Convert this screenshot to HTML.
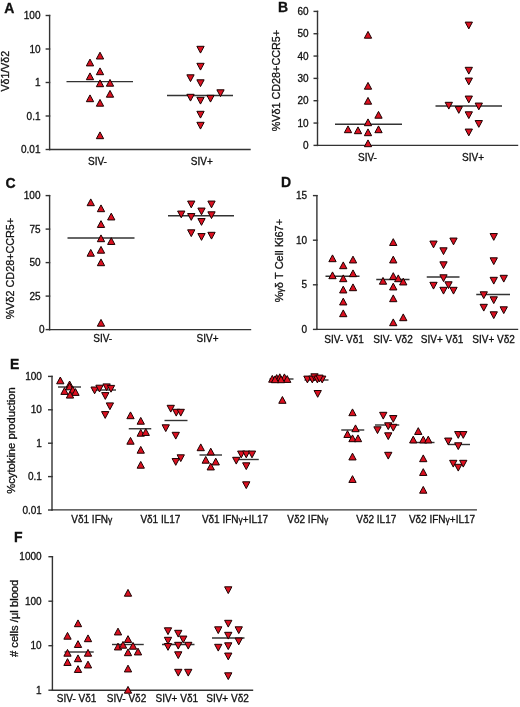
<!DOCTYPE html>
<html><head><meta charset="utf-8"><style>
html,body{margin:0;padding:0;background:#fff;width:520px;height:707px;overflow:hidden}
svg{display:block}
text{font-family:"Liberation Sans",sans-serif;fill:#111;stroke:#111;stroke-width:0.3}
svg{will-change:transform}
.a{stroke:#333;stroke-width:1.4;stroke-linecap:square}
.m{stroke:#333;stroke-width:1.4}
.t{fill:#dc1020;stroke:#1a0000;stroke-width:1.0;stroke-linejoin:miter}
</style></head><body>
<svg width="520" height="707" viewBox="0 0 520 707">

<text x="4.2" y="12.8" font-size="14" text-anchor="start" font-weight="bold" >A</text>
<line class="a" x1="49.6" y1="15.5" x2="49.6" y2="149.5"/>
<line class="a" x1="46.300000000000004" y1="15.5" x2="49.6" y2="15.5"/>
<text x="40.5" y="19.1" font-size="10" text-anchor="end" font-weight="normal" >100</text>
<line class="a" x1="46.300000000000004" y1="49.0" x2="49.6" y2="49.0"/>
<text x="40.5" y="52.6" font-size="10" text-anchor="end" font-weight="normal" >10</text>
<line class="a" x1="46.300000000000004" y1="82.5" x2="49.6" y2="82.5"/>
<text x="40.5" y="86.1" font-size="10" text-anchor="end" font-weight="normal" >1</text>
<line class="a" x1="46.300000000000004" y1="116.0" x2="49.6" y2="116.0"/>
<text x="40.5" y="119.6" font-size="10" text-anchor="end" font-weight="normal" >0.1</text>
<line class="a" x1="46.300000000000004" y1="149.5" x2="49.6" y2="149.5"/>
<text x="40.5" y="153.1" font-size="10" text-anchor="end" font-weight="normal" >0.01</text>
<line class="a" x1="49.6" y1="149.5" x2="250" y2="149.5"/>
<text transform="translate(9.2,71.25) rotate(-90)" font-size="10.6" text-anchor="middle">V&#948;1/V&#948;2</text>
<text x="97.5" y="165" font-size="10" text-anchor="middle" font-weight="normal" >SIV-</text>
<text x="201.75" y="165" font-size="10" text-anchor="middle" font-weight="normal" >SIV+</text>
<line class="m" x1="66.5" y1="81.6" x2="133" y2="81.6"/>
<polygon class="t" points="96.35,59.00 103.65,59.00 100.00,52.20"/>
<polygon class="t" points="86.35,65.90 93.65,65.90 90.00,59.10"/>
<polygon class="t" points="96.35,74.70 103.65,74.70 100.00,67.90"/>
<polygon class="t" points="86.35,79.70 93.65,79.70 90.00,72.90"/>
<polygon class="t" points="96.35,86.70 103.65,86.70 100.00,79.90"/>
<polygon class="t" points="106.35,86.20 113.65,86.20 110.00,79.40"/>
<polygon class="t" points="106.35,97.20 113.65,97.20 110.00,90.40"/>
<polygon class="t" points="86.35,101.70 93.65,101.70 90.00,94.90"/>
<polygon class="t" points="96.35,106.20 103.65,106.20 100.00,99.40"/>
<polygon class="t" points="96.35,138.70 103.65,138.70 100.00,131.90"/>
<line class="m" x1="167" y1="95.5" x2="233" y2="95.5"/>
<polygon class="t" points="196.85,46.30 204.15,46.30 200.50,53.10"/>
<polygon class="t" points="196.85,63.30 204.15,63.30 200.50,70.10"/>
<polygon class="t" points="186.85,74.80 194.15,74.80 190.50,81.60"/>
<polygon class="t" points="196.85,79.80 204.15,79.80 200.50,86.60"/>
<polygon class="t" points="216.85,89.80 224.15,89.80 220.50,96.60"/>
<polygon class="t" points="186.85,94.30 194.15,94.30 190.50,101.10"/>
<polygon class="t" points="196.85,97.30 204.15,97.30 200.50,104.10"/>
<polygon class="t" points="206.85,95.30 214.15,95.30 210.50,102.10"/>
<polygon class="t" points="196.85,111.30 204.15,111.30 200.50,118.10"/>
<polygon class="t" points="196.85,122.30 204.15,122.30 200.50,129.10"/>
<text x="277.9" y="12.1" font-size="14" text-anchor="start" font-weight="bold" >B</text>
<line class="a" x1="317.5" y1="11.4" x2="317.5" y2="145.4"/>
<line class="a" x1="314.2" y1="11.4" x2="317.5" y2="11.4"/>
<text x="308.5" y="15.0" font-size="10" text-anchor="end" font-weight="normal" >60</text>
<line class="a" x1="314.2" y1="33.73" x2="317.5" y2="33.73"/>
<text x="308.5" y="37.33" font-size="10" text-anchor="end" font-weight="normal" >50</text>
<line class="a" x1="314.2" y1="56.059999999999995" x2="317.5" y2="56.059999999999995"/>
<text x="308.5" y="59.66" font-size="10" text-anchor="end" font-weight="normal" >40</text>
<line class="a" x1="314.2" y1="78.39" x2="317.5" y2="78.39"/>
<text x="308.5" y="81.99" font-size="10" text-anchor="end" font-weight="normal" >30</text>
<line class="a" x1="314.2" y1="100.72" x2="317.5" y2="100.72"/>
<text x="308.5" y="104.32" font-size="10" text-anchor="end" font-weight="normal" >20</text>
<line class="a" x1="314.2" y1="123.05" x2="317.5" y2="123.05"/>
<text x="308.5" y="126.64999999999999" font-size="10" text-anchor="end" font-weight="normal" >10</text>
<line class="a" x1="314.2" y1="145.38" x2="317.5" y2="145.38"/>
<text x="308.5" y="148.98" font-size="10" text-anchor="end" font-weight="normal" >0</text>
<line class="a" x1="317.5" y1="145.4" x2="517.5" y2="145.4"/>
<text transform="translate(280,80.6) rotate(-90)" font-size="10.8" text-anchor="middle">%V&#948;1 CD28+CCR5+</text>
<text x="367.5" y="161" font-size="10" text-anchor="middle" font-weight="normal" >SIV-</text>
<text x="473" y="161" font-size="10" text-anchor="middle" font-weight="normal" >SIV+</text>
<line class="m" x1="335" y1="124.3" x2="402" y2="124.3"/>
<polygon class="t" points="364.35,38.20 371.65,38.20 368.00,31.40"/>
<polygon class="t" points="364.35,89.20 371.65,89.20 368.00,82.40"/>
<polygon class="t" points="364.35,104.20 371.65,104.20 368.00,97.40"/>
<polygon class="t" points="374.85,118.20 382.15,118.20 378.50,111.40"/>
<polygon class="t" points="364.35,125.70 371.65,125.70 368.00,118.90"/>
<polygon class="t" points="344.35,132.70 351.65,132.70 348.00,125.90"/>
<polygon class="t" points="354.35,133.70 361.65,133.70 358.00,126.90"/>
<polygon class="t" points="364.35,135.70 371.65,135.70 368.00,128.90"/>
<polygon class="t" points="374.85,132.70 382.15,132.70 378.50,125.90"/>
<polygon class="t" points="364.35,146.70 371.65,146.70 368.00,139.90"/>
<line class="m" x1="435.5" y1="106" x2="502" y2="106"/>
<polygon class="t" points="465.15,22.10 472.45,22.10 468.80,28.90"/>
<polygon class="t" points="465.15,67.30 472.45,67.30 468.80,74.10"/>
<polygon class="t" points="465.15,78.05 472.45,78.05 468.80,84.85"/>
<polygon class="t" points="465.15,96.05 472.45,96.05 468.80,102.85"/>
<polygon class="t" points="445.15,102.30 452.45,102.30 448.80,109.10"/>
<polygon class="t" points="455.15,106.55 462.45,106.55 458.80,113.35"/>
<polygon class="t" points="475.15,103.05 482.45,103.05 478.80,109.85"/>
<polygon class="t" points="465.15,111.80 472.45,111.80 468.80,118.60"/>
<polygon class="t" points="475.15,120.55 482.45,120.55 478.80,127.35"/>
<polygon class="t" points="465.15,129.05 472.45,129.05 468.80,135.85"/>
<text x="5.6" y="188" font-size="14" text-anchor="start" font-weight="bold" >C</text>
<line class="a" x1="49.6" y1="195.6" x2="49.6" y2="329.6"/>
<line class="a" x1="46.300000000000004" y1="195.6" x2="49.6" y2="195.6"/>
<text x="40.5" y="199.2" font-size="10" text-anchor="end" font-weight="normal" >100</text>
<line class="a" x1="46.300000000000004" y1="229.1" x2="49.6" y2="229.1"/>
<text x="40.5" y="232.7" font-size="10" text-anchor="end" font-weight="normal" >75</text>
<line class="a" x1="46.300000000000004" y1="262.6" x2="49.6" y2="262.6"/>
<text x="40.5" y="266.20000000000005" font-size="10" text-anchor="end" font-weight="normal" >50</text>
<line class="a" x1="46.300000000000004" y1="296.1" x2="49.6" y2="296.1"/>
<text x="40.5" y="299.70000000000005" font-size="10" text-anchor="end" font-weight="normal" >25</text>
<line class="a" x1="46.3" y1="329.6" x2="49.6" y2="329.6"/>
<text x="44.6" y="333.20000000000005" font-size="10" text-anchor="end" font-weight="normal" >0</text>
<line class="a" x1="49.6" y1="329.6" x2="250.5" y2="329.6"/>
<text transform="translate(14.2,268.55) rotate(-90)" font-size="10.8" text-anchor="middle">%V&#948;2 CD28+CCR5+</text>
<text x="102.75" y="342" font-size="10" text-anchor="middle" font-weight="normal" >SIV-</text>
<text x="207.5" y="342" font-size="10" text-anchor="middle" font-weight="normal" >SIV+</text>
<line class="m" x1="67.5" y1="238" x2="134.5" y2="238"/>
<polygon class="t" points="87.10,205.70 94.40,205.70 90.75,198.90"/>
<polygon class="t" points="97.35,211.70 104.65,211.70 101.00,204.90"/>
<polygon class="t" points="107.60,219.95 114.90,219.95 111.25,213.15"/>
<polygon class="t" points="97.35,227.45 104.65,227.45 101.00,220.65"/>
<polygon class="t" points="97.35,241.70 104.65,241.70 101.00,234.90"/>
<polygon class="t" points="107.60,244.45 114.90,244.45 111.25,237.65"/>
<polygon class="t" points="87.10,256.20 94.40,256.20 90.75,249.40"/>
<polygon class="t" points="97.35,253.20 104.65,253.20 101.00,246.40"/>
<polygon class="t" points="97.35,265.70 104.65,265.70 101.00,258.90"/>
<polygon class="t" points="97.35,326.20 104.65,326.20 101.00,319.40"/>
<line class="m" x1="168" y1="215.75" x2="234" y2="215.75"/>
<polygon class="t" points="187.60,201.05 194.90,201.05 191.25,207.85"/>
<polygon class="t" points="207.85,201.05 215.15,201.05 211.50,207.85"/>
<polygon class="t" points="197.85,208.05 205.15,208.05 201.50,214.85"/>
<polygon class="t" points="177.60,211.05 184.90,211.05 181.25,217.85"/>
<polygon class="t" points="187.60,213.55 194.90,213.55 191.25,220.35"/>
<polygon class="t" points="207.85,211.80 215.15,211.80 211.50,218.60"/>
<polygon class="t" points="197.85,218.55 205.15,218.55 201.50,225.35"/>
<polygon class="t" points="187.60,229.80 194.90,229.80 191.25,236.60"/>
<polygon class="t" points="197.85,233.55 205.15,233.55 201.50,240.35"/>
<polygon class="t" points="207.85,232.30 215.15,232.30 211.50,239.10"/>
<text x="280.9" y="186.7" font-size="14" text-anchor="start" font-weight="bold" >D</text>
<line class="a" x1="316.9" y1="195.6" x2="316.9" y2="329.4"/>
<line class="a" x1="313.59999999999997" y1="195.6" x2="316.9" y2="195.6"/>
<text x="307" y="199.2" font-size="10" text-anchor="end" font-weight="normal" >15</text>
<line class="a" x1="313.59999999999997" y1="240.2" x2="316.9" y2="240.2"/>
<text x="307" y="243.79999999999998" font-size="10" text-anchor="end" font-weight="normal" >10</text>
<line class="a" x1="313.59999999999997" y1="284.8" x2="316.9" y2="284.8"/>
<text x="307" y="288.40000000000003" font-size="10" text-anchor="end" font-weight="normal" >5</text>
<line class="a" x1="313.59999999999997" y1="329.4" x2="316.9" y2="329.4"/>
<text x="307" y="333.0" font-size="10" text-anchor="end" font-weight="normal" >0</text>
<line class="a" x1="316.9" y1="329.4" x2="517.5" y2="329.4"/>
<text transform="translate(283.4,260.55) rotate(-90)" font-size="11" text-anchor="middle">%<tspan font-size="8.5">&#947;</tspan>&#948; T Cell Ki67+</text>
<text x="344.1" y="342.5" font-size="10" text-anchor="middle" font-weight="normal" >SIV- V&#948;1</text>
<text x="393" y="342.5" font-size="10" text-anchor="middle" font-weight="normal" >SIV- V&#948;2</text>
<text x="442.1" y="342.5" font-size="10" text-anchor="middle" font-weight="normal" >SIV+ V&#948;1</text>
<text x="493.6" y="342.5" font-size="10" text-anchor="middle" font-weight="normal" >SIV+ V&#948;2</text>
<line class="m" x1="325.5" y1="276.25" x2="359.5" y2="276.25"/>
<polygon class="t" points="328.85,261.70 336.15,261.70 332.50,254.90"/>
<polygon class="t" points="349.35,262.95 356.65,262.95 353.00,256.15"/>
<polygon class="t" points="339.60,268.70 346.90,268.70 343.25,261.90"/>
<polygon class="t" points="349.35,276.70 356.65,276.70 353.00,269.90"/>
<polygon class="t" points="328.85,278.70 336.15,278.70 332.50,271.90"/>
<polygon class="t" points="339.60,281.70 346.90,281.70 343.25,274.90"/>
<polygon class="t" points="349.35,290.70 356.65,290.70 353.00,283.90"/>
<polygon class="t" points="339.60,292.95 346.90,292.95 343.25,286.15"/>
<polygon class="t" points="339.60,304.95 346.90,304.95 343.25,298.15"/>
<polygon class="t" points="339.60,316.70 346.90,316.70 343.25,309.90"/>
<line class="m" x1="376.25" y1="279.5" x2="409.5" y2="279.5"/>
<polygon class="t" points="389.60,245.45 396.90,245.45 393.25,238.65"/>
<polygon class="t" points="389.60,262.95 396.90,262.95 393.25,256.15"/>
<polygon class="t" points="389.60,279.45 396.90,279.45 393.25,272.65"/>
<polygon class="t" points="394.60,281.70 401.90,281.70 398.25,274.90"/>
<polygon class="t" points="379.35,284.20 386.65,284.20 383.00,277.40"/>
<polygon class="t" points="399.60,284.95 406.90,284.95 403.25,278.15"/>
<polygon class="t" points="389.60,289.95 396.90,289.95 393.25,283.15"/>
<polygon class="t" points="389.60,301.70 396.90,301.70 393.25,294.90"/>
<polygon class="t" points="399.60,320.70 406.90,320.70 403.25,313.90"/>
<polygon class="t" points="389.60,325.70 396.90,325.70 393.25,318.90"/>
<line class="m" x1="426.75" y1="277" x2="459.5" y2="277"/>
<polygon class="t" points="429.85,241.05 437.15,241.05 433.50,247.85"/>
<polygon class="t" points="449.85,238.05 457.15,238.05 453.50,244.85"/>
<polygon class="t" points="439.85,247.80 447.15,247.80 443.50,254.60"/>
<polygon class="t" points="439.85,261.80 447.15,261.80 443.50,268.60"/>
<polygon class="t" points="439.85,274.80 447.15,274.80 443.50,281.60"/>
<polygon class="t" points="429.85,282.30 437.15,282.30 433.50,289.10"/>
<polygon class="t" points="444.85,281.80 452.15,281.80 448.50,288.60"/>
<polygon class="t" points="439.85,287.30 447.15,287.30 443.50,294.10"/>
<polygon class="t" points="449.85,287.30 457.15,287.30 453.50,294.10"/>
<line class="m" x1="476.25" y1="294.5" x2="510" y2="294.5"/>
<polygon class="t" points="490.10,233.55 497.40,233.55 493.75,240.35"/>
<polygon class="t" points="490.10,257.80 497.40,257.80 493.75,264.60"/>
<polygon class="t" points="500.10,275.30 507.40,275.30 503.75,282.10"/>
<polygon class="t" points="490.10,277.30 497.40,277.30 493.75,284.10"/>
<polygon class="t" points="480.10,291.80 487.40,291.80 483.75,298.60"/>
<polygon class="t" points="490.10,296.80 497.40,296.80 493.75,303.60"/>
<polygon class="t" points="480.10,304.30 487.40,304.30 483.75,311.10"/>
<polygon class="t" points="500.10,306.80 507.40,306.80 503.75,313.60"/>
<polygon class="t" points="490.10,311.80 497.40,311.80 493.75,318.60"/>
<text x="10" y="368.7" font-size="14" text-anchor="start" font-weight="bold" >E</text>
<line class="a" x1="52.0" y1="376.4" x2="52.0" y2="509.9"/>
<line class="a" x1="48.7" y1="376.4" x2="52.0" y2="376.4"/>
<text x="41.9" y="380.0" font-size="10" text-anchor="end" font-weight="normal" >100</text>
<line class="a" x1="48.7" y1="409.79999999999995" x2="52.0" y2="409.79999999999995"/>
<text x="41.9" y="413.4" font-size="10" text-anchor="end" font-weight="normal" >10</text>
<line class="a" x1="48.7" y1="443.2" x2="52.0" y2="443.2"/>
<text x="41.9" y="446.8" font-size="10" text-anchor="end" font-weight="normal" >1</text>
<line class="a" x1="48.7" y1="476.59999999999997" x2="52.0" y2="476.59999999999997"/>
<text x="41.9" y="480.2" font-size="10" text-anchor="end" font-weight="normal" >0.1</text>
<line class="a" x1="48.7" y1="510.0" x2="52.0" y2="510.0"/>
<text x="41.9" y="513.6" font-size="10" text-anchor="end" font-weight="normal" >0.01</text>
<line class="a" x1="52.0" y1="509.9" x2="476.25" y2="509.9"/>
<text transform="translate(14.9,440.5) rotate(-90)" font-size="11.2" text-anchor="middle">%cytokine production</text>
<text x="91.75" y="522.5" font-size="10" text-anchor="middle" font-weight="normal" >V&#948;1 IFN<tspan font-size="8.5">&#947;</tspan></text>
<text x="160.4" y="522.5" font-size="10" text-anchor="middle" font-weight="normal" >V&#948;1 IL17</text>
<text x="235" y="522.5" font-size="10" text-anchor="middle" font-weight="normal" >V&#948;1 IFN<tspan font-size="8.5">&#947;</tspan>+IL17</text>
<text x="307.75" y="522.5" font-size="10" text-anchor="middle" font-weight="normal" >V&#948;2 IFN<tspan font-size="8.5">&#947;</tspan></text>
<text x="376.25" y="522.5" font-size="10" text-anchor="middle" font-weight="normal" >V&#948;2 IL17</text>
<text x="442" y="522.5" font-size="10" text-anchor="middle" font-weight="normal" >V&#948;2 IFN<tspan font-size="8.5">&#947;</tspan>+IL17</text>
<line class="m" x1="58" y1="387" x2="81" y2="387"/>
<polygon class="t" points="56.65,383.80 63.95,383.80 60.30,377.00"/>
<polygon class="t" points="65.95,387.80 73.25,387.80 69.60,381.00"/>
<polygon class="t" points="65.95,389.80 73.25,389.80 69.60,383.00"/>
<polygon class="t" points="60.85,394.40 68.15,394.40 64.50,387.60"/>
<polygon class="t" points="69.15,393.20 76.45,393.20 72.80,386.40"/>
<polygon class="t" points="71.85,395.40 79.15,395.40 75.50,388.60"/>
<polygon class="t" points="66.35,398.10 73.65,398.10 70.00,391.30"/>
<line class="m" x1="92" y1="390" x2="116" y2="390"/>
<polygon class="t" points="90.95,387.00 98.25,387.00 94.60,393.80"/>
<polygon class="t" points="95.85,385.20 103.15,385.20 99.50,392.00"/>
<polygon class="t" points="102.95,383.90 110.25,383.90 106.60,390.70"/>
<polygon class="t" points="107.35,385.40 114.65,385.40 111.00,392.20"/>
<polygon class="t" points="101.65,392.60 108.95,392.60 105.30,399.40"/>
<polygon class="t" points="106.25,402.90 113.55,402.90 109.90,409.70"/>
<polygon class="t" points="101.55,411.60 108.85,411.60 105.20,418.40"/>
<line class="m" x1="128.75" y1="428.75" x2="151.25" y2="428.75"/>
<polygon class="t" points="126.85,418.70 134.15,418.70 130.50,411.90"/>
<polygon class="t" points="137.10,424.20 144.40,424.20 140.75,417.40"/>
<polygon class="t" points="137.10,436.20 144.40,436.20 140.75,429.40"/>
<polygon class="t" points="142.10,435.45 149.40,435.45 145.75,428.65"/>
<polygon class="t" points="126.85,444.20 134.15,444.20 130.50,437.40"/>
<polygon class="t" points="137.10,453.20 144.40,453.20 140.75,446.40"/>
<polygon class="t" points="137.10,468.20 144.40,468.20 140.75,461.40"/>
<line class="m" x1="164.5" y1="420.5" x2="187.5" y2="420.5"/>
<polygon class="t" points="167.10,405.30 174.40,405.30 170.75,412.10"/>
<polygon class="t" points="172.60,409.30 179.90,409.30 176.25,416.10"/>
<polygon class="t" points="177.10,409.30 184.40,409.30 180.75,416.10"/>
<polygon class="t" points="162.10,424.80 169.40,424.80 165.75,431.60"/>
<polygon class="t" points="172.10,432.30 179.40,432.30 175.75,439.10"/>
<polygon class="t" points="177.10,454.80 184.40,454.80 180.75,461.60"/>
<polygon class="t" points="172.10,458.55 179.40,458.55 175.75,465.35"/>
<line class="m" x1="199.5" y1="455" x2="222" y2="455"/>
<polygon class="t" points="197.10,450.70 204.40,450.70 200.75,443.90"/>
<polygon class="t" points="207.10,454.95 214.40,454.95 210.75,448.15"/>
<polygon class="t" points="202.10,463.20 209.40,463.20 205.75,456.40"/>
<polygon class="t" points="212.10,464.95 219.40,464.95 215.75,458.15"/>
<polygon class="t" points="207.10,469.95 214.40,469.95 210.75,463.15"/>
<line class="m" x1="238.75" y1="459.5" x2="258.75" y2="459.5"/>
<polygon class="t" points="232.60,457.30 239.90,457.30 236.25,464.10"/>
<polygon class="t" points="237.60,451.05 244.90,451.05 241.25,457.85"/>
<polygon class="t" points="242.60,451.05 249.90,451.05 246.25,457.85"/>
<polygon class="t" points="248.35,451.05 255.65,451.05 252.00,457.85"/>
<polygon class="t" points="242.60,462.80 249.90,462.80 246.25,469.60"/>
<polygon class="t" points="242.60,481.80 249.90,481.80 246.25,488.60"/>
<line class="m" x1="269.5" y1="379" x2="293.5" y2="379"/>
<polygon class="t" points="268.65,382.20 275.95,382.20 272.30,375.40"/>
<polygon class="t" points="273.05,381.40 280.35,381.40 276.70,374.60"/>
<polygon class="t" points="276.15,380.60 283.45,380.60 279.80,373.80"/>
<polygon class="t" points="280.75,380.70 288.05,380.70 284.40,373.90"/>
<polygon class="t" points="283.55,382.40 290.85,382.40 287.20,375.60"/>
<polygon class="t" points="277.35,382.70 284.65,382.70 281.00,375.90"/>
<polygon class="t" points="271.35,382.70 278.65,382.70 275.00,375.90"/>
<polygon class="t" points="278.75,403.30 286.05,403.30 282.40,396.50"/>
<line class="m" x1="304.5" y1="380" x2="328.5" y2="380"/>
<polygon class="t" points="303.75,376.10 311.05,376.10 307.40,382.90"/>
<polygon class="t" points="308.65,376.10 315.95,376.10 312.30,382.90"/>
<polygon class="t" points="310.85,373.80 318.15,373.80 314.50,380.60"/>
<polygon class="t" points="313.75,376.10 321.05,376.10 317.40,382.90"/>
<polygon class="t" points="318.55,376.10 325.85,376.10 322.20,382.90"/>
<polygon class="t" points="315.85,375.10 323.15,375.10 319.50,381.90"/>
<polygon class="t" points="314.05,390.50 321.35,390.50 317.70,397.30"/>
<line class="m" x1="341.25" y1="430" x2="364.25" y2="430"/>
<polygon class="t" points="348.85,415.70 356.15,415.70 352.50,408.90"/>
<polygon class="t" points="351.85,431.70 359.15,431.70 355.50,424.90"/>
<polygon class="t" points="343.85,437.45 351.15,437.45 347.50,430.65"/>
<polygon class="t" points="348.85,441.70 356.15,441.70 352.50,434.90"/>
<polygon class="t" points="354.35,441.70 361.65,441.70 358.00,434.90"/>
<polygon class="t" points="348.85,459.95 356.15,459.95 352.50,453.15"/>
<polygon class="t" points="348.85,482.45 356.15,482.45 352.50,475.65"/>
<line class="m" x1="375" y1="425" x2="399.25" y2="425"/>
<polygon class="t" points="379.60,412.30 386.90,412.30 383.25,419.10"/>
<polygon class="t" points="389.60,415.55 396.90,415.55 393.25,422.35"/>
<polygon class="t" points="373.85,426.80 381.15,426.80 377.50,433.60"/>
<polygon class="t" points="384.60,422.80 391.90,422.80 388.25,429.60"/>
<polygon class="t" points="389.60,424.30 396.90,424.30 393.25,431.10"/>
<polygon class="t" points="384.60,432.80 391.90,432.80 388.25,439.60"/>
<polygon class="t" points="384.60,452.30 391.90,452.30 388.25,459.10"/>
<line class="m" x1="410.75" y1="442.5" x2="434.5" y2="442.5"/>
<polygon class="t" points="414.60,434.45 421.90,434.45 418.25,427.65"/>
<polygon class="t" points="409.60,442.95 416.90,442.95 413.25,436.15"/>
<polygon class="t" points="419.60,442.95 426.90,442.95 423.25,436.15"/>
<polygon class="t" points="424.60,442.95 431.90,442.95 428.25,436.15"/>
<polygon class="t" points="419.60,461.70 426.90,461.70 423.25,454.90"/>
<polygon class="t" points="419.60,475.45 426.90,475.45 423.25,468.65"/>
<polygon class="t" points="419.60,493.20 426.90,493.20 423.25,486.40"/>
<line class="m" x1="448" y1="444.5" x2="470" y2="444.5"/>
<polygon class="t" points="444.60,438.05 451.90,438.05 448.25,444.85"/>
<polygon class="t" points="454.60,431.55 461.90,431.55 458.25,438.35"/>
<polygon class="t" points="459.60,431.55 466.90,431.55 463.25,438.35"/>
<polygon class="t" points="454.60,442.80 461.90,442.80 458.25,449.60"/>
<polygon class="t" points="449.60,460.30 456.90,460.30 453.25,467.10"/>
<polygon class="t" points="454.60,464.30 461.90,464.30 458.25,471.10"/>
<polygon class="t" points="459.60,460.30 466.90,460.30 463.25,467.10"/>
<text x="14" y="541.8" font-size="14" text-anchor="start" font-weight="bold" >F</text>
<line class="a" x1="52.4" y1="556.7" x2="52.4" y2="690.2"/>
<line class="a" x1="49.1" y1="556.7" x2="52.4" y2="556.7"/>
<text x="41.6" y="560.3000000000001" font-size="10" text-anchor="end" font-weight="normal" >1000</text>
<line class="a" x1="49.1" y1="601.2" x2="52.4" y2="601.2"/>
<text x="41.6" y="604.8000000000001" font-size="10" text-anchor="end" font-weight="normal" >100</text>
<line class="a" x1="49.1" y1="645.7" x2="52.4" y2="645.7"/>
<text x="41.6" y="649.3000000000001" font-size="10" text-anchor="end" font-weight="normal" >10</text>
<line class="a" x1="49.1" y1="690.2" x2="52.4" y2="690.2"/>
<text x="41.6" y="693.8000000000001" font-size="10" text-anchor="end" font-weight="normal" >1</text>
<line class="a" x1="52.4" y1="690.2" x2="252.5" y2="690.2"/>
<text transform="translate(17.8,618.35) rotate(-90)" font-size="11.2" text-anchor="middle"># cells /&#956;l blood</text>
<text x="76.6" y="702" font-size="10" text-anchor="middle" font-weight="normal" >SIV- V&#948;1</text>
<text x="126.5" y="702" font-size="10" text-anchor="middle" font-weight="normal" >SIV- V&#948;2</text>
<text x="176.75" y="702" font-size="10" text-anchor="middle" font-weight="normal" >SIV+ V&#948;1</text>
<text x="227.5" y="702" font-size="10" text-anchor="middle" font-weight="normal" >SIV+ V&#948;2</text>
<line class="m" x1="64.5" y1="652" x2="93.75" y2="652"/>
<polygon class="t" points="74.35,626.70 81.65,626.70 78.00,619.90"/>
<polygon class="t" points="63.85,639.20 71.15,639.20 67.50,632.40"/>
<polygon class="t" points="84.35,641.70 91.65,641.70 88.00,634.90"/>
<polygon class="t" points="74.35,647.45 81.65,647.45 78.00,640.65"/>
<polygon class="t" points="63.85,656.20 71.15,656.20 67.50,649.40"/>
<polygon class="t" points="84.35,656.20 91.65,656.20 88.00,649.40"/>
<polygon class="t" points="74.35,661.70 81.65,661.70 78.00,654.90"/>
<polygon class="t" points="63.85,665.45 71.15,665.45 67.50,658.65"/>
<polygon class="t" points="84.35,667.95 91.65,667.95 88.00,661.15"/>
<polygon class="t" points="74.35,672.45 81.65,672.45 78.00,665.65"/>
<line class="m" x1="112" y1="644.5" x2="143.75" y2="644.5"/>
<polygon class="t" points="124.35,596.20 131.65,596.20 128.00,589.40"/>
<polygon class="t" points="114.35,634.95 121.65,634.95 118.00,628.15"/>
<polygon class="t" points="124.35,642.45 131.65,642.45 128.00,635.65"/>
<polygon class="t" points="114.35,649.95 121.65,649.95 118.00,643.15"/>
<polygon class="t" points="119.35,648.20 126.65,648.20 123.00,641.40"/>
<polygon class="t" points="129.35,649.20 136.65,649.20 133.00,642.40"/>
<polygon class="t" points="124.35,655.70 131.65,655.70 128.00,648.90"/>
<polygon class="t" points="134.35,654.95 141.65,654.95 138.00,648.15"/>
<polygon class="t" points="124.35,671.95 131.65,671.95 128.00,665.15"/>
<polygon class="t" points="124.35,693.20 131.65,693.20 128.00,686.40"/>
<line class="m" x1="162" y1="644.5" x2="194.5" y2="644.5"/>
<polygon class="t" points="164.35,627.80 171.65,627.80 168.00,634.60"/>
<polygon class="t" points="174.60,630.30 181.90,630.30 178.25,637.10"/>
<polygon class="t" points="179.60,636.05 186.90,636.05 183.25,642.85"/>
<polygon class="t" points="164.35,637.30 171.65,637.30 168.00,644.10"/>
<polygon class="t" points="164.35,643.55 171.65,643.55 168.00,650.35"/>
<polygon class="t" points="174.60,642.30 181.90,642.30 178.25,649.10"/>
<polygon class="t" points="184.60,642.30 191.90,642.30 188.25,649.10"/>
<polygon class="t" points="174.60,651.80 181.90,651.80 178.25,658.60"/>
<polygon class="t" points="174.60,669.30 181.90,669.30 178.25,676.10"/>
<polygon class="t" points="184.60,669.30 191.90,669.30 188.25,676.10"/>
<line class="m" x1="212" y1="638" x2="244.5" y2="638"/>
<polygon class="t" points="224.60,586.80 231.90,586.80 228.25,593.60"/>
<polygon class="t" points="224.60,620.30 231.90,620.30 228.25,627.10"/>
<polygon class="t" points="214.60,626.80 221.90,626.80 218.25,633.60"/>
<polygon class="t" points="235.10,626.80 242.40,626.80 238.75,633.60"/>
<polygon class="t" points="224.60,632.30 231.90,632.30 228.25,639.10"/>
<polygon class="t" points="235.10,638.05 242.40,638.05 238.75,644.85"/>
<polygon class="t" points="214.60,644.30 221.90,644.30 218.25,651.10"/>
<polygon class="t" points="224.60,642.80 231.90,642.80 228.25,649.60"/>
<polygon class="t" points="224.60,653.05 231.90,653.05 228.25,659.85"/>
<polygon class="t" points="224.60,672.80 231.90,672.80 228.25,679.60"/>
</svg>
</body></html>
